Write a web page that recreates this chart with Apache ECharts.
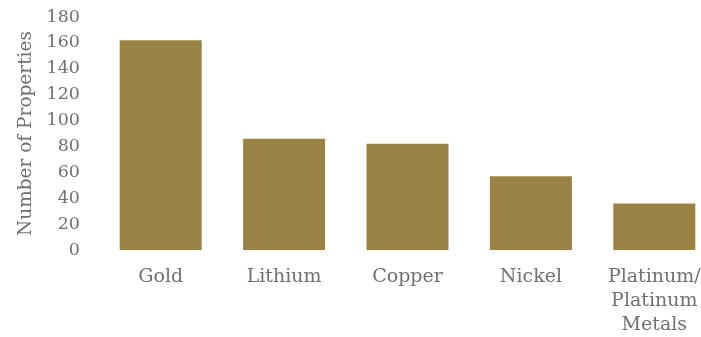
<!DOCTYPE html>
<html>
<head>
<meta charset="utf-8">
<script src="https://cdn.jsdelivr.net/npm/echarts@6/dist/echarts.min.js"></script>
<style>
  html, body { margin: 0; padding: 0; background: #fff; overflow: hidden; }
  /* the plot runs a little past the right edge of the window */
  #chart { width: 716px; height: 337px; }
</style>
</head>
<body>
<div id="chart"></div>
<script>
// Number of properties per commodity
const categories = ['Gold', 'Lithium', 'Copper', 'Nickel', 'Platinum/\nPlatinum\nMetals'];
const propertyCounts = [162, 86, 82, 57, 36];
const yTicks = { min: 0, max: 180, interval: 20 };

const font = '"DejaVu Serif", "Liberation Serif", serif';
const textColor = '#707070';

const chart = echarts.init(document.getElementById('chart'), null, { renderer: 'canvas' });
chart.setOption({
  animation: false,
  grid: { left: 99, top: 17, width: 617, height: 233, containLabel: false },
  xAxis: {
    type: 'category',
    data: categories,
    axisLine: { show: false },
    axisTick: { show: false },
    axisLabel: {
      color: textColor,
      fontFamily: font,
      fontSize: 19,
      lineHeight: 24,
      margin: 15,
      interval: 0
    }
  },
  yAxis: {
    type: 'value',
    min: yTicks.min,
    max: yTicks.max,
    interval: yTicks.interval,
    name: 'Number of Properties',
    nameLocation: 'middle',
    nameGap: 63,
    nameTextStyle: { color: textColor, fontFamily: font, fontSize: 18.5 },
    splitLine: { show: false },
    axisLine: { show: false },
    axisTick: { show: false },
    axisLabel: { color: textColor, fontFamily: font, fontSize: 17.5, margin: 19 }
  },
  series: [{
    type: 'bar',
    data: propertyCounts,
    barWidth: 82,
    itemStyle: { color: '#9A8244' }
  }]
});
</script>
</body>
</html>
